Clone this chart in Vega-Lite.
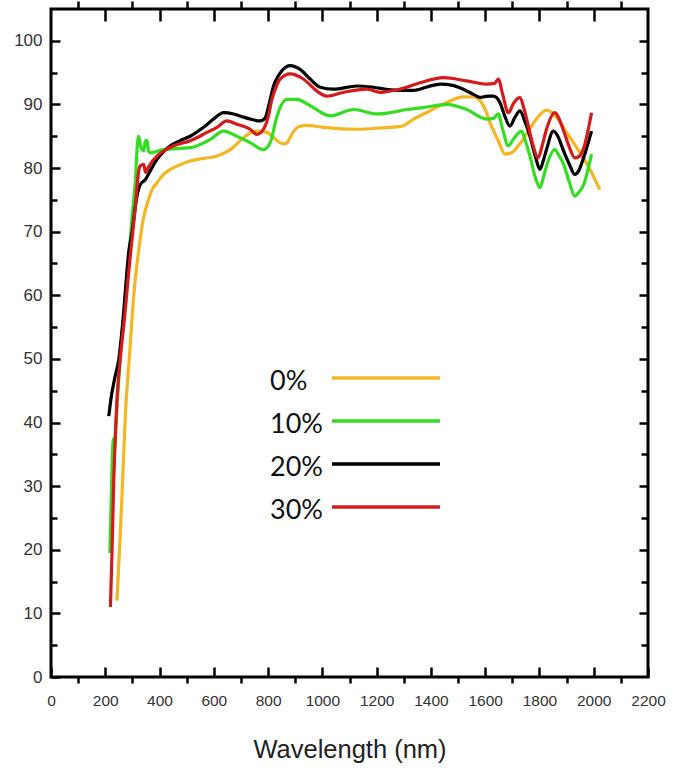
{
  "$schema": "https://vega.github.io/schema/vega-lite/v6.json",
  "width": 597,
  "height": 668,
  "autosize": "none",
  "padding": {"left": 51, "top": 9, "right": 31, "bottom": 97},
  "background": "#ffffff",
  "config": {
    "view": {"stroke": "#000000", "strokeWidth": 3},
    "axis": {"grid": false, "domain": false, "tickColor": "#000000", "tickWidth": 2.5, "labelFont": "Liberation Sans", "labelColor": "#333333"}
  },
  "datasets": {
    "spec": [
      {"c": "0%", "w": 243, "t": 12}, {"c": "0%", "w": 256, "t": 23}, {"c": "0%", "w": 265, "t": 32}, {"c": "0%", "w": 274, "t": 41}, {"c": "0%", "w": 290, "t": 51}, {"c": "0%", "w": 305, "t": 60}, {"c": "0%", "w": 323, "t": 67}, {"c": "0%", "w": 340, "t": 72}, {"c": "0%", "w": 360, "t": 75.1}, {"c": "0%", "w": 375, "t": 76.8}, {"c": "0%", "w": 391, "t": 77.7}, {"c": "0%", "w": 415, "t": 79}, {"c": "0%", "w": 440, "t": 79.8}, {"c": "0%", "w": 475, "t": 80.5}, {"c": "0%", "w": 513, "t": 81.1}, {"c": "0%", "w": 560, "t": 81.5}, {"c": "0%", "w": 612, "t": 81.9}, {"c": "0%", "w": 640, "t": 82.4}, {"c": "0%", "w": 661, "t": 82.9}, {"c": "0%", "w": 697, "t": 84.3}, {"c": "0%", "w": 734, "t": 85.5}, {"c": "0%", "w": 759, "t": 85.8}, {"c": "0%", "w": 796, "t": 85.6}, {"c": "0%", "w": 815, "t": 85}, {"c": "0%", "w": 833, "t": 84.3}, {"c": "0%", "w": 857, "t": 83.8}, {"c": "0%", "w": 870, "t": 84}, {"c": "0%", "w": 881, "t": 84.8}, {"c": "0%", "w": 895, "t": 85.8}, {"c": "0%", "w": 912, "t": 86.5}, {"c": "0%", "w": 943, "t": 86.7}, {"c": "0%", "w": 1004, "t": 86.4}, {"c": "0%", "w": 1127, "t": 86.1}, {"c": "0%", "w": 1213, "t": 86.3}, {"c": "0%", "w": 1293, "t": 86.6}, {"c": "0%", "w": 1336, "t": 87.7}, {"c": "0%", "w": 1397, "t": 89}, {"c": "0%", "w": 1458, "t": 90.3}, {"c": "0%", "w": 1519, "t": 91.2}, {"c": "0%", "w": 1556, "t": 91.2}, {"c": "0%", "w": 1581, "t": 90.6}, {"c": "0%", "w": 1600, "t": 89.2}, {"c": "0%", "w": 1618, "t": 87.1}, {"c": "0%", "w": 1648, "t": 84.3}, {"c": "0%", "w": 1673, "t": 82.2}, {"c": "0%", "w": 1697, "t": 82.4}, {"c": "0%", "w": 1720, "t": 83.4}, {"c": "0%", "w": 1740, "t": 84.5}, {"c": "0%", "w": 1765, "t": 86.2}, {"c": "0%", "w": 1789, "t": 87.7}, {"c": "0%", "w": 1826, "t": 89.1}, {"c": "0%", "w": 1851, "t": 88.5}, {"c": "0%", "w": 1875, "t": 87.3}, {"c": "0%", "w": 1900, "t": 85.6}, {"c": "0%", "w": 1925, "t": 84}, {"c": "0%", "w": 1949, "t": 82.4}, {"c": "0%", "w": 1986, "t": 79.8}, {"c": "0%", "w": 2022, "t": 76.6},

      {"c": "10%", "w": 217, "t": 19.5}, {"c": "10%", "w": 222, "t": 28}, {"c": "10%", "w": 228, "t": 36.7}, {"c": "10%", "w": 231, "t": 37.5}, {"c": "10%", "w": 235, "t": 36}, {"c": "10%", "w": 240, "t": 40}, {"c": "10%", "w": 255, "t": 50}, {"c": "10%", "w": 274, "t": 59.8}, {"c": "10%", "w": 287, "t": 66}, {"c": "10%", "w": 299, "t": 72.4}, {"c": "10%", "w": 311, "t": 78}, {"c": "10%", "w": 317, "t": 82.9}, {"c": "10%", "w": 323, "t": 85}, {"c": "10%", "w": 330, "t": 83.5}, {"c": "10%", "w": 342, "t": 82.7}, {"c": "10%", "w": 348, "t": 84.3}, {"c": "10%", "w": 354, "t": 84.3}, {"c": "10%", "w": 360, "t": 82.6}, {"c": "10%", "w": 366, "t": 82.4}, {"c": "10%", "w": 415, "t": 82.9}, {"c": "10%", "w": 513, "t": 83.2}, {"c": "10%", "w": 587, "t": 84.5}, {"c": "10%", "w": 636, "t": 85.8}, {"c": "10%", "w": 685, "t": 85}, {"c": "10%", "w": 734, "t": 84}, {"c": "10%", "w": 783, "t": 82.9}, {"c": "10%", "w": 808, "t": 84}, {"c": "10%", "w": 833, "t": 88.2}, {"c": "10%", "w": 869, "t": 90.8}, {"c": "10%", "w": 906, "t": 90.8}, {"c": "10%", "w": 955, "t": 89.8}, {"c": "10%", "w": 1029, "t": 88.2}, {"c": "10%", "w": 1115, "t": 89.2}, {"c": "10%", "w": 1201, "t": 88.5}, {"c": "10%", "w": 1250, "t": 88.7}, {"c": "10%", "w": 1311, "t": 89.2}, {"c": "10%", "w": 1372, "t": 89.5}, {"c": "10%", "w": 1458, "t": 90}, {"c": "10%", "w": 1532, "t": 89.2}, {"c": "10%", "w": 1605, "t": 87.7}, {"c": "10%", "w": 1630, "t": 87.8}, {"c": "10%", "w": 1648, "t": 88.5}, {"c": "10%", "w": 1665, "t": 86}, {"c": "10%", "w": 1685, "t": 83.5}, {"c": "10%", "w": 1705, "t": 84.6}, {"c": "10%", "w": 1734, "t": 85.8}, {"c": "10%", "w": 1750, "t": 84}, {"c": "10%", "w": 1765, "t": 81.9}, {"c": "10%", "w": 1785, "t": 78.5}, {"c": "10%", "w": 1802, "t": 76.9}, {"c": "10%", "w": 1815, "t": 78.6}, {"c": "10%", "w": 1826, "t": 80.3}, {"c": "10%", "w": 1857, "t": 82.9}, {"c": "10%", "w": 1870, "t": 82.1}, {"c": "10%", "w": 1887, "t": 80.8}, {"c": "10%", "w": 1910, "t": 77.8}, {"c": "10%", "w": 1930, "t": 75.6}, {"c": "10%", "w": 1945, "t": 76.2}, {"c": "10%", "w": 1961, "t": 77.2}, {"c": "10%", "w": 1992, "t": 82.2},

      {"c": "20%", "w": 213, "t": 41}, {"c": "20%", "w": 222, "t": 44}, {"c": "20%", "w": 235, "t": 47}, {"c": "20%", "w": 250, "t": 50}, {"c": "20%", "w": 265, "t": 56}, {"c": "20%", "w": 287, "t": 67}, {"c": "20%", "w": 299, "t": 70}, {"c": "20%", "w": 311, "t": 74}, {"c": "20%", "w": 317, "t": 75.6}, {"c": "20%", "w": 330, "t": 77.5}, {"c": "20%", "w": 348, "t": 78.2}, {"c": "20%", "w": 365, "t": 79.5}, {"c": "20%", "w": 391, "t": 81.4}, {"c": "20%", "w": 415, "t": 82.6}, {"c": "20%", "w": 440, "t": 83.5}, {"c": "20%", "w": 475, "t": 84.3}, {"c": "20%", "w": 513, "t": 85}, {"c": "20%", "w": 562, "t": 86.4}, {"c": "20%", "w": 599, "t": 87.7}, {"c": "20%", "w": 636, "t": 88.7}, {"c": "20%", "w": 673, "t": 88.5}, {"c": "20%", "w": 710, "t": 88}, {"c": "20%", "w": 734, "t": 87.7}, {"c": "20%", "w": 771, "t": 87.4}, {"c": "20%", "w": 790, "t": 87.9}, {"c": "20%", "w": 796, "t": 88.7}, {"c": "20%", "w": 808, "t": 90.8}, {"c": "20%", "w": 820, "t": 92.9}, {"c": "20%", "w": 835, "t": 94.3}, {"c": "20%", "w": 851, "t": 95.3}, {"c": "20%", "w": 881, "t": 96.1}, {"c": "20%", "w": 918, "t": 95.5}, {"c": "20%", "w": 955, "t": 94}, {"c": "20%", "w": 992, "t": 92.7}, {"c": "20%", "w": 1041, "t": 92.4}, {"c": "20%", "w": 1127, "t": 92.9}, {"c": "20%", "w": 1188, "t": 92.7}, {"c": "20%", "w": 1250, "t": 92.3}, {"c": "20%", "w": 1335, "t": 92.2}, {"c": "20%", "w": 1390, "t": 92.8}, {"c": "20%", "w": 1434, "t": 93.2}, {"c": "20%", "w": 1480, "t": 93}, {"c": "20%", "w": 1519, "t": 92.4}, {"c": "20%", "w": 1560, "t": 91.5}, {"c": "20%", "w": 1581, "t": 91.1}, {"c": "20%", "w": 1610, "t": 91.3}, {"c": "20%", "w": 1630, "t": 91.3}, {"c": "20%", "w": 1654, "t": 90.3}, {"c": "20%", "w": 1672, "t": 88.2}, {"c": "20%", "w": 1691, "t": 86.6}, {"c": "20%", "w": 1710, "t": 88}, {"c": "20%", "w": 1728, "t": 89}, {"c": "20%", "w": 1745, "t": 87.5}, {"c": "20%", "w": 1765, "t": 85}, {"c": "20%", "w": 1785, "t": 81.8}, {"c": "20%", "w": 1802, "t": 79.8}, {"c": "20%", "w": 1815, "t": 81.3}, {"c": "20%", "w": 1826, "t": 82.9}, {"c": "20%", "w": 1851, "t": 85.8}, {"c": "20%", "w": 1870, "t": 84.8}, {"c": "20%", "w": 1887, "t": 82.9}, {"c": "20%", "w": 1910, "t": 80.6}, {"c": "20%", "w": 1930, "t": 79}, {"c": "20%", "w": 1945, "t": 79.6}, {"c": "20%", "w": 1961, "t": 81.4}, {"c": "20%", "w": 1992, "t": 85.8},

      {"c": "30%", "w": 219, "t": 11}, {"c": "30%", "w": 225, "t": 20}, {"c": "30%", "w": 231, "t": 30.5}, {"c": "30%", "w": 237, "t": 38}, {"c": "30%", "w": 243, "t": 43.6}, {"c": "30%", "w": 255, "t": 50}, {"c": "30%", "w": 270, "t": 56}, {"c": "30%", "w": 287, "t": 64}, {"c": "30%", "w": 299, "t": 69}, {"c": "30%", "w": 311, "t": 74}, {"c": "30%", "w": 323, "t": 79.5}, {"c": "30%", "w": 330, "t": 80.4}, {"c": "30%", "w": 342, "t": 80.6}, {"c": "30%", "w": 348, "t": 79.3}, {"c": "30%", "w": 360, "t": 80.2}, {"c": "30%", "w": 391, "t": 81.9}, {"c": "30%", "w": 420, "t": 82.8}, {"c": "30%", "w": 452, "t": 83.5}, {"c": "30%", "w": 513, "t": 84.3}, {"c": "30%", "w": 575, "t": 85.6}, {"c": "30%", "w": 612, "t": 86.4}, {"c": "30%", "w": 648, "t": 87.4}, {"c": "30%", "w": 685, "t": 86.9}, {"c": "30%", "w": 734, "t": 86.1}, {"c": "30%", "w": 759, "t": 85.3}, {"c": "30%", "w": 783, "t": 86.1}, {"c": "30%", "w": 800, "t": 88}, {"c": "30%", "w": 814, "t": 90.8}, {"c": "30%", "w": 830, "t": 92.8}, {"c": "30%", "w": 845, "t": 94}, {"c": "30%", "w": 881, "t": 94.8}, {"c": "30%", "w": 930, "t": 94}, {"c": "30%", "w": 980, "t": 92.1}, {"c": "30%", "w": 1016, "t": 91.3}, {"c": "30%", "w": 1078, "t": 91.9}, {"c": "30%", "w": 1164, "t": 92.4}, {"c": "30%", "w": 1213, "t": 91.9}, {"c": "30%", "w": 1286, "t": 92.4}, {"c": "30%", "w": 1360, "t": 93.4}, {"c": "30%", "w": 1446, "t": 94.2}, {"c": "30%", "w": 1532, "t": 93.7}, {"c": "30%", "w": 1605, "t": 93.2}, {"c": "30%", "w": 1635, "t": 93.3}, {"c": "30%", "w": 1648, "t": 94}, {"c": "30%", "w": 1665, "t": 91.5}, {"c": "30%", "w": 1685, "t": 88.7}, {"c": "30%", "w": 1705, "t": 90.2}, {"c": "30%", "w": 1728, "t": 91.1}, {"c": "30%", "w": 1745, "t": 89}, {"c": "30%", "w": 1759, "t": 86.6}, {"c": "30%", "w": 1775, "t": 83.8}, {"c": "30%", "w": 1795, "t": 81.6}, {"c": "30%", "w": 1810, "t": 83.5}, {"c": "30%", "w": 1826, "t": 86.1}, {"c": "30%", "w": 1857, "t": 88.7}, {"c": "30%", "w": 1872, "t": 87.8}, {"c": "30%", "w": 1887, "t": 86.1}, {"c": "30%", "w": 1910, "t": 83.3}, {"c": "30%", "w": 1930, "t": 81.6}, {"c": "30%", "w": 1945, "t": 81.8}, {"c": "30%", "w": 1961, "t": 82.9}, {"c": "30%", "w": 1992, "t": 88.7}
    ]
  },
  "data": {"name": "spec"},
  "layer": [
    {
      "mark": {"type": "line", "strokeWidth": 3.2, "interpolate": "monotone"},
      "encoding": {
        "x": {"field": "w", "type": "quantitative", "scale": {"domain": [0, 2200], "nice": false, "zero": false},
          "axis": {"orient": "bottom", "values": [0, 200, 400, 600, 800, 1000, 1200, 1400, 1600, 1800, 2000, 2200], "format": "d", "tickSize": -10, "labelPadding": 26, "labelFontSize": 15.5, "labelFlush": false, "title": "Wavelength (nm)", "titleFont": "Liberation Sans", "titleFontSize": 25.5, "titleFontWeight": "normal", "titleColor": "#222222", "titleBaseline": "alphabetic", "titleY": 80}},
        "y": {"field": "t", "type": "quantitative", "scale": {"domain": [0, 105], "nice": false, "zero": true},
          "axis": {"orient": "left", "values": [0, 10, 20, 30, 40, 50, 60, 70, 80, 90, 100], "format": "d", "tickSize": -9, "labelPadding": 18, "labelFontSize": 17, "labelFlush": false, "title": null}},
        "color": {"field": "c", "type": "nominal",
          "scale": {"domain": ["0%", "10%", "20%", "30%"], "range": ["#F4B622", "#33DD22", "#000000", "#D41A1A"]},
          "legend": {"orient": "none", "legendX": 219, "legendY": 359, "title": null, "symbolType": "stroke", "symbolSize": 11664, "symbolStrokeWidth": 3.5, "labelFont": "Lato", "labelFontSize": 27, "labelColor": "#111111", "labelOffset": -172, "symbolOffset": 60, "rowPadding": 16, "padding": 0,
            "encode": {"symbols": {"update": {"y": {"value": 10}, "stroke": [{"test": "datum.value === '10%'", "value": "#1DA84E"}, {"scale": "color", "field": "value"}]}}, "labels": {"update": {"y": {"value": 14}}}}}}
      }
    },
    {
      "mark": {"type": "point", "opacity": 0},
      "encoding": {
        "x": {"field": "w", "type": "quantitative", "axis": {"orient": "bottom", "values": [100, 300, 500, 700, 900, 1100, 1300, 1500, 1700, 1900, 2100], "tickSize": 6, "labels": false, "title": null}},
        "y": {"field": "t", "type": "quantitative", "axis": {"orient": "left", "values": [5, 15, 25, 35, 45, 55, 65, 75, 85, 95], "tickSize": -6, "labels": false, "title": null}}
      }
    },
    {
      "mark": {"type": "point", "opacity": 0},
      "encoding": {
        "x": {"field": "w", "type": "quantitative", "axis": {"orient": "top", "values": [200, 400, 600, 800, 1000, 1200, 1400, 1600, 1800, 2000], "tickSize": -12, "labels": false, "title": null}},
        "y": {"field": "t", "type": "quantitative", "axis": {"orient": "right", "values": [10, 20, 30, 40, 50, 60, 70, 80, 90, 100], "tickSize": -9, "labels": false, "title": null}}
      }
    },
    {
      "mark": {"type": "point", "opacity": 0},
      "encoding": {
        "x": {"field": "w", "type": "quantitative", "axis": {"orient": "top", "values": [100, 300, 500, 700, 900, 1100, 1300, 1500, 1700, 1900, 2100], "tickSize": 8, "labels": false, "title": null}},
        "y": {"field": "t", "type": "quantitative", "axis": {"orient": "right", "values": [5, 15, 25, 35, 45, 55, 65, 75, 85, 95], "tickSize": -7, "labels": false, "title": null}}
      }
    }
  ],
  "resolve": {"axis": {"x": "independent", "y": "independent"}}
}
